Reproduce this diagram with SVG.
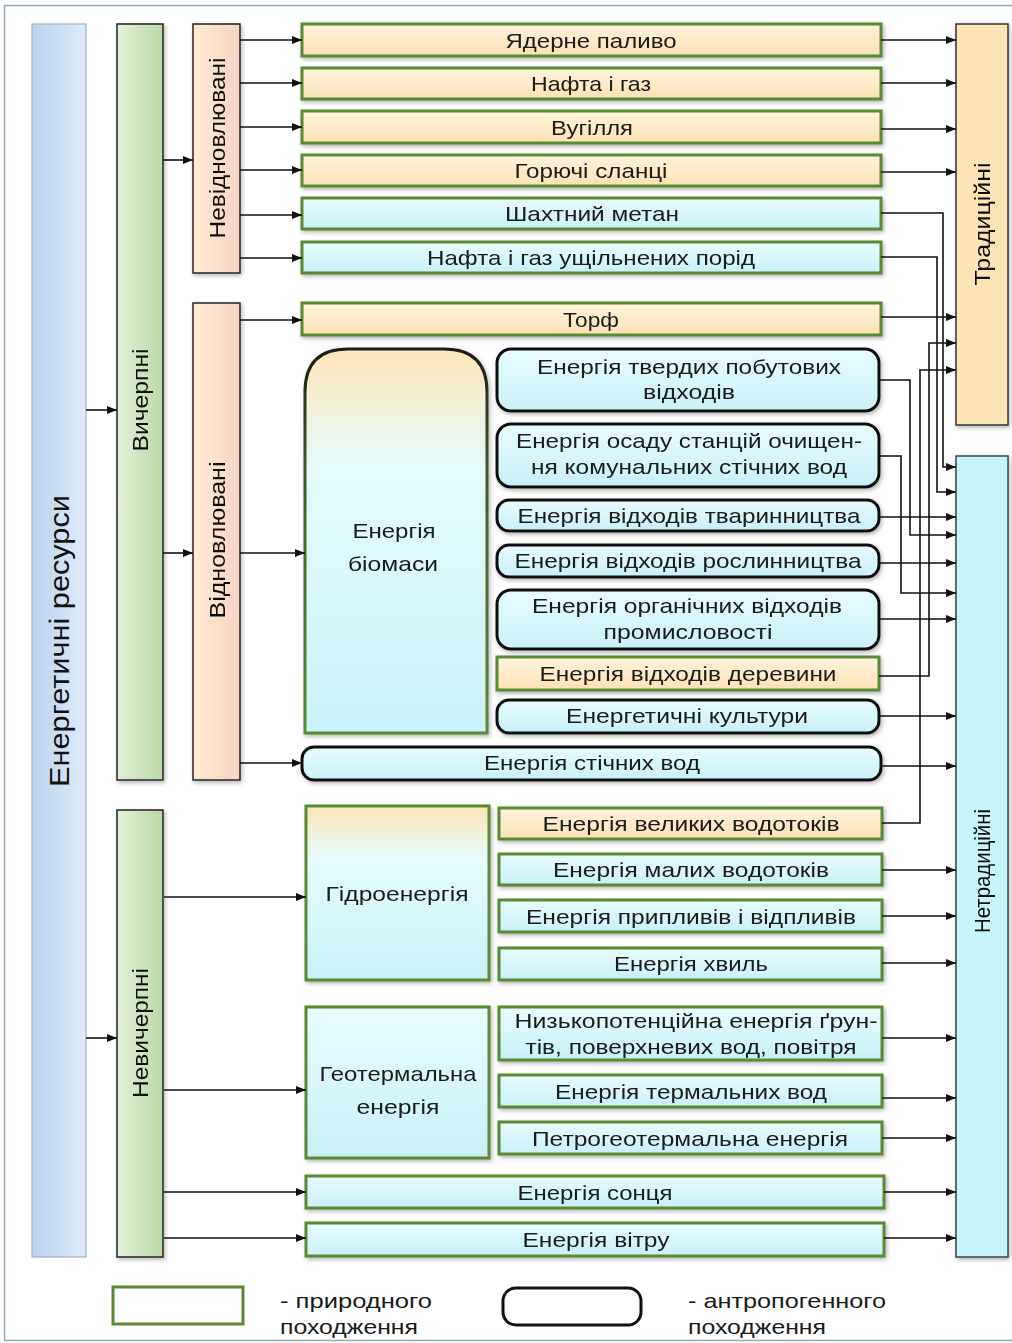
<svg xmlns="http://www.w3.org/2000/svg" width="1012" height="1343" viewBox="0 0 1012 1343">
<defs>
<linearGradient id="gPeach" x1="0" y1="0" x2="0" y2="1"><stop offset="0" stop-color="#fef3dc"/><stop offset="1" stop-color="#fbe2b4"/></linearGradient>
<linearGradient id="gBlue" x1="0" y1="0" x2="0" y2="1"><stop offset="0" stop-color="#e8fbfd"/><stop offset="1" stop-color="#c8f1f8"/></linearGradient>
<linearGradient id="gBio" x1="0" y1="0" x2="0" y2="1"><stop offset="0" stop-color="#fde6b8"/><stop offset="0.3" stop-color="#e6fafb"/><stop offset="1" stop-color="#c8f3fa"/></linearGradient>
<linearGradient id="gBioStroke" x1="0" y1="0" x2="0" y2="1"><stop offset="0" stop-color="#1a1a1a"/><stop offset="0.3" stop-color="#3f5a25"/><stop offset="1" stop-color="#5a8a32"/></linearGradient>
<linearGradient id="gCol1" x1="0" y1="0" x2="1" y2="0"><stop offset="0" stop-color="#b9d3ec"/><stop offset="1" stop-color="#e0ecf8"/></linearGradient>
<linearGradient id="gCol2" x1="0" y1="0" x2="1" y2="0"><stop offset="0" stop-color="#e4f1dc"/><stop offset="1" stop-color="#bad8a4"/></linearGradient>
<linearGradient id="gCol3" x1="0" y1="0" x2="1" y2="0"><stop offset="0" stop-color="#fdeccf"/><stop offset="1" stop-color="#f8d4c6"/></linearGradient>
<filter id="sh" x="-10%" y="-10%" width="120%" height="130%"><feDropShadow dx="1.5" dy="2" stdDeviation="2" flood-color="#777" flood-opacity="0.55"/></filter>
<marker id="ar" viewBox="0 0 10 8" refX="10" refY="4" markerWidth="10" markerHeight="8" markerUnits="userSpaceOnUse" orient="auto"><path d="M0,0 L10,4 L0,8 z" fill="#111"/></marker>
</defs>
<style>
.nat{stroke:#5a8a32;stroke-width:3}
.ant{stroke:#111;stroke-width:3}
.pe{fill:url(#gPeach)}
.bl{fill:url(#gBlue)}
.t{font-family:"Liberation Sans",Arial,sans-serif;font-size:21px;fill:#1a1a1a;text-anchor:middle}
.v{font-family:"Liberation Sans",Arial,sans-serif;font-size:22px;fill:#111;text-anchor:middle}
.c line,.c path{stroke:#111;stroke-width:1.6;fill:none}
.ca{marker-end:url(#ar)}
</style>
<rect x="4.5" y="5.5" width="1020" height="1335" fill="#fff" stroke="#93aabd" stroke-width="1.5"/>

<g id="n-resources"><rect x="32" y="24" width="54" height="1233" fill="url(#gCol1)" stroke="#9fb3c6" stroke-width="1.2"/><text class="v" style="font-size:27px" transform="translate(69,641) rotate(-90)" textLength="292" lengthAdjust="spacingAndGlyphs">Енергетичні ресурси</text></g>
<g id="n-vycherpni" filter="url(#sh)"><rect x="117" y="24" width="46" height="756" fill="url(#gCol2)" stroke="#222" stroke-width="1.5"/><text class="v" transform="translate(148,400) rotate(-90)" textLength="103" lengthAdjust="spacingAndGlyphs">Вичерпні</text></g>
<g id="n-nevycherpni" filter="url(#sh)"><rect x="117" y="810" width="46" height="447" fill="url(#gCol2)" stroke="#222" stroke-width="1.5"/><text class="v" transform="translate(148,1033) rotate(-90)" textLength="130" lengthAdjust="spacingAndGlyphs">Невичерпні</text></g>
<g id="n-nevidnovl" filter="url(#sh)"><rect x="193" y="24" width="47" height="249" fill="url(#gCol3)" stroke="#222" stroke-width="1.5"/><text class="v" transform="translate(225,148) rotate(-90)" textLength="181" lengthAdjust="spacingAndGlyphs">Невідновлювані</text></g>
<g id="n-vidnovl" filter="url(#sh)"><rect x="193" y="303" width="47" height="477" fill="url(#gCol3)" stroke="#222" stroke-width="1.5"/><text class="v" transform="translate(225,540) rotate(-90)" textLength="157" lengthAdjust="spacingAndGlyphs">Відновлювані</text></g>
<g id="n-tradytsiini" filter="url(#sh)"><rect x="956" y="24" width="52" height="401" fill="#fde4b5" stroke="#333" stroke-width="1.5"/><text class="v" transform="translate(990,224) rotate(-90)" textLength="123" lengthAdjust="spacingAndGlyphs">Традиційні</text></g>
<g id="n-netradytsiini" filter="url(#sh)"><rect x="956" y="456" width="52" height="801" fill="#c6f6fa" stroke="#345" stroke-width="1.5"/><text class="v" transform="translate(990,871) rotate(-90)" textLength="124" lengthAdjust="spacingAndGlyphs">Нетрадиційні</text></g>

<g id="n-yaderne" filter="url(#sh)"><rect class="nat pe" x="302" y="24" width="579" height="32"/><text class="t" x="591" y="47.5" textLength="171" lengthAdjust="spacingAndGlyphs">Ядерне паливо</text></g>
<g id="n-nafta" filter="url(#sh)"><rect class="nat pe" x="302" y="68" width="579" height="31"/><text class="t" x="591" y="91" textLength="120" lengthAdjust="spacingAndGlyphs">Нафта і газ</text></g>
<g id="n-vugillia" filter="url(#sh)"><rect class="nat pe" x="302" y="111" width="579" height="32"/><text class="t" x="592" y="134.5" textLength="82" lengthAdjust="spacingAndGlyphs">Вугілля</text></g>
<g id="n-slantsi" filter="url(#sh)"><rect class="nat pe" x="302" y="155" width="579" height="31"/><text class="t" x="591" y="178" textLength="153" lengthAdjust="spacingAndGlyphs">Горючі сланці</text></g>
<g id="n-metan" filter="url(#sh)"><rect class="nat bl" x="302" y="198" width="579" height="31"/><text class="t" x="592" y="221" textLength="174" lengthAdjust="spacingAndGlyphs">Шахтний метан</text></g>
<g id="n-naftaushch" filter="url(#sh)"><rect class="nat bl" x="302" y="242" width="579" height="31"/><text class="t" x="591" y="265" textLength="328" lengthAdjust="spacingAndGlyphs">Нафта і газ ущільнених порід</text></g>
<g id="n-torf" filter="url(#sh)"><rect class="nat pe" x="302" y="303" width="579" height="32"/><text class="t" x="591" y="326.5" textLength="56" lengthAdjust="spacingAndGlyphs">Торф</text></g>

<g id="n-biomasa" filter="url(#sh)"><path d="M305,733 V392 Q305,349 348,349 H444 Q487,349 487,392 V733 Z" fill="url(#gBio)" stroke="url(#gBioStroke)" stroke-width="3"/><text class="t" x="394" y="538" textLength="83" lengthAdjust="spacingAndGlyphs">Енергія</text><text class="t" x="393" y="571" textLength="90" lengthAdjust="spacingAndGlyphs">біомаси</text></g>
<g id="n-tverdi" filter="url(#sh)"><rect class="ant bl" x="497" y="349" width="382" height="62" rx="14"/><text class="t" x="689" y="374" textLength="304" lengthAdjust="spacingAndGlyphs">Енергія твердих побутових</text><text class="t" x="689" y="399" textLength="92" lengthAdjust="spacingAndGlyphs">відходів</text></g>
<g id="n-osad" filter="url(#sh)"><rect class="ant bl" x="497" y="424" width="382" height="63" rx="14"/><text class="t" x="689" y="448" textLength="346" lengthAdjust="spacingAndGlyphs">Енергія осаду станцій очищен-</text><text class="t" x="689" y="474" textLength="316" lengthAdjust="spacingAndGlyphs">ня комунальних стічних вод</text></g>
<g id="n-tvaryn" filter="url(#sh)"><rect class="ant bl" x="497" y="500" width="382" height="31" rx="12"/><text class="t" x="689" y="523" textLength="343" lengthAdjust="spacingAndGlyphs">Енергія відходів тваринництва</text></g>
<g id="n-roslyn" filter="url(#sh)"><rect class="ant bl" x="497" y="545" width="382" height="32" rx="12"/><text class="t" x="688" y="568" textLength="347" lengthAdjust="spacingAndGlyphs">Енергія відходів рослинництва</text></g>
<g id="n-orhan" filter="url(#sh)"><rect class="ant bl" x="497" y="590" width="382" height="59" rx="14"/><text class="t" x="687" y="613" textLength="310" lengthAdjust="spacingAndGlyphs">Енергія органічних відходів</text><text class="t" x="688" y="639" textLength="169" lengthAdjust="spacingAndGlyphs">промисловості</text></g>
<g id="n-derevyna" filter="url(#sh)"><rect class="nat pe" x="497" y="657" width="382" height="33"/><text class="t" x="688" y="681" textLength="297" lengthAdjust="spacingAndGlyphs">Енергія відходів деревини</text></g>
<g id="n-kultury" filter="url(#sh)"><rect class="ant bl" x="497" y="700" width="382" height="33" rx="12"/><text class="t" x="687" y="723" textLength="242" lengthAdjust="spacingAndGlyphs">Енергетичні культури</text></g>
<g id="n-stichni" filter="url(#sh)"><rect class="ant bl" x="302" y="747" width="579" height="33" rx="12"/><text class="t" x="592" y="770" textLength="216" lengthAdjust="spacingAndGlyphs">Енергія стічних вод</text></g>

<g id="n-hidro" filter="url(#sh)"><rect class="nat" x="306" y="806" width="183" height="174" fill="url(#gBio)"/><text class="t" x="397" y="901" textLength="143" lengthAdjust="spacingAndGlyphs">Гідроенергія</text></g>
<g id="n-velyki" filter="url(#sh)"><rect class="nat pe" x="499" y="808" width="383" height="31"/><text class="t" x="691" y="831" textLength="297" lengthAdjust="spacingAndGlyphs">Енергія великих водотоків</text></g>
<g id="n-mali" filter="url(#sh)"><rect class="nat bl" x="499" y="854" width="383" height="31"/><text class="t" x="691" y="877" textLength="276" lengthAdjust="spacingAndGlyphs">Енергія малих водотоків</text></g>
<g id="n-pryplyvy" filter="url(#sh)"><rect class="nat bl" x="499" y="900" width="383" height="32"/><text class="t" x="691" y="923.5" textLength="330" lengthAdjust="spacingAndGlyphs">Енергія припливів і відпливів</text></g>
<g id="n-khvyli" filter="url(#sh)"><rect class="nat bl" x="499" y="948" width="383" height="32"/><text class="t" x="691" y="971" textLength="154" lengthAdjust="spacingAndGlyphs">Енергія хвиль</text></g>

<g id="n-heo" filter="url(#sh)"><rect class="nat bl" x="306" y="1007" width="183" height="151"/><text class="t" x="398" y="1081" textLength="157" lengthAdjust="spacingAndGlyphs">Геотермальна</text><text class="t" x="398" y="1114" textLength="83" lengthAdjust="spacingAndGlyphs">енергія</text></g>
<g id="n-nyzko" filter="url(#sh)"><rect class="nat bl" x="499" y="1007" width="383" height="53"/><text class="t" x="696" y="1028" textLength="363" lengthAdjust="spacingAndGlyphs">Низькопотенційна енергія ґрун-</text><text class="t" x="691" y="1054" textLength="331" lengthAdjust="spacingAndGlyphs">тів, поверхневих вод, повітря</text></g>
<g id="n-termalni" filter="url(#sh)"><rect class="nat bl" x="499" y="1075" width="383" height="32"/><text class="t" x="691" y="1098.5" textLength="272" lengthAdjust="spacingAndGlyphs">Енергія термальних вод</text></g>
<g id="n-petro" filter="url(#sh)"><rect class="nat bl" x="499" y="1122" width="383" height="32"/><text class="t" x="690" y="1145.5" textLength="316" lengthAdjust="spacingAndGlyphs">Петрогеотермальна енергія</text></g>
<g id="n-sontse" filter="url(#sh)"><rect class="nat bl" x="306" y="1176" width="578" height="32"/><text class="t" x="595" y="1199.5" textLength="155" lengthAdjust="spacingAndGlyphs">Енергія сонця</text></g>
<g id="n-viter" filter="url(#sh)"><rect class="nat bl" x="306" y="1223" width="578" height="33"/><text class="t" x="596" y="1247" textLength="147" lengthAdjust="spacingAndGlyphs">Енергія вітру</text></g>

<g id="connectors" class="c">
<line class="ca" x1="86" y1="410" x2="117" y2="410"/>
<line class="ca" x1="86" y1="1038" x2="117" y2="1038"/>
<line class="ca" x1="163" y1="160" x2="193" y2="160"/>
<line class="ca" x1="163" y1="553" x2="193" y2="553"/>
<line class="ca" x1="240" y1="40" x2="302" y2="40"/>
<line class="ca" x1="240" y1="83" x2="302" y2="83"/>
<line class="ca" x1="240" y1="127" x2="302" y2="127"/>
<line class="ca" x1="240" y1="170" x2="302" y2="170"/>
<line class="ca" x1="240" y1="215" x2="302" y2="215"/>
<line class="ca" x1="240" y1="258" x2="302" y2="258"/>
<line class="ca" x1="240" y1="320" x2="302" y2="320"/>
<line class="ca" x1="240" y1="553" x2="305" y2="553"/>
<line class="ca" x1="240" y1="763" x2="302" y2="763"/>
<line class="ca" x1="164" y1="897" x2="306" y2="897"/>
<line class="ca" x1="164" y1="1090" x2="306" y2="1090"/>
<line class="ca" x1="164" y1="1192" x2="306" y2="1192"/>
<line class="ca" x1="164" y1="1238" x2="306" y2="1238"/>
<line class="ca" x1="881" y1="40" x2="956" y2="40"/>
<line class="ca" x1="881" y1="83" x2="956" y2="83"/>
<line class="ca" x1="881" y1="129" x2="956" y2="129"/>
<line class="ca" x1="881" y1="172" x2="956" y2="172"/>
<line class="ca" x1="881" y1="317" x2="956" y2="317"/>
<path class="ca" d="M881,213 H943 V467 H956"/>
<path class="ca" d="M881,257 H937 V492 H956"/>
<path class="ca" d="M879,380 H910 V535 H956"/>
<path class="ca" d="M879,456 H901 V593 H956"/>
<path class="ca" d="M879,676 H929 V343 H956"/>
<path class="ca" d="M882,823 H920 V370 H956"/>
<line class="ca" x1="879" y1="517" x2="956" y2="517"/>
<line class="ca" x1="879" y1="563" x2="956" y2="563"/>
<line class="ca" x1="879" y1="619" x2="956" y2="619"/>
<line class="ca" x1="879" y1="716" x2="956" y2="716"/>
<line class="ca" x1="881" y1="766" x2="956" y2="766"/>
<line class="ca" x1="882" y1="870" x2="956" y2="870"/>
<line class="ca" x1="882" y1="916" x2="956" y2="916"/>
<line class="ca" x1="882" y1="963" x2="956" y2="963"/>
<line class="ca" x1="882" y1="1038" x2="956" y2="1038"/>
<line class="ca" x1="882" y1="1098" x2="956" y2="1098"/>
<line class="ca" x1="882" y1="1138" x2="956" y2="1138"/>
<line class="ca" x1="884" y1="1192" x2="956" y2="1192"/>
<line class="ca" x1="884" y1="1238" x2="956" y2="1238"/>
</g>

<g id="legend">
<rect x="113" y="1287" width="130" height="37" fill="#fff" class="nat"/>
<text class="t" style="text-anchor:start" x="280" y="1308" textLength="152" lengthAdjust="spacingAndGlyphs">- природного</text>
<text class="t" style="text-anchor:start" x="280" y="1334" textLength="138" lengthAdjust="spacingAndGlyphs">походження</text>
<rect x="503" y="1288" width="138" height="37" rx="13" fill="#fff" class="ant"/>
<text class="t" style="text-anchor:start" x="688" y="1308" textLength="198" lengthAdjust="spacingAndGlyphs">- антропогенного</text>
<text class="t" style="text-anchor:start" x="688" y="1334" textLength="138" lengthAdjust="spacingAndGlyphs">походження</text>
</g>
</svg>
